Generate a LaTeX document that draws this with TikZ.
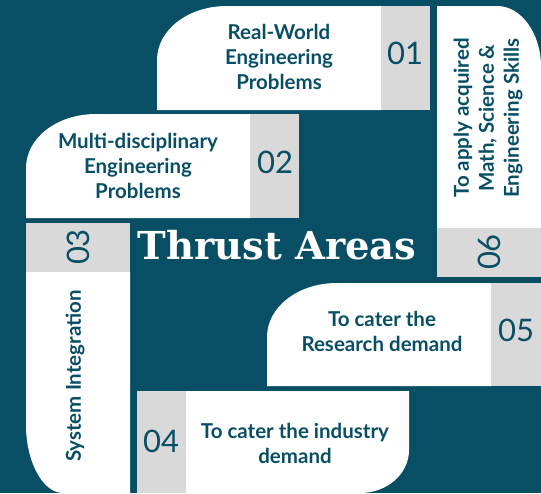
\documentclass[tikz,border=0pt]{standalone}
\usepackage{fontspec}
\setmainfont{Lato}
\newfontfamily\titlefont{DejaVu Serif}
\definecolor{deepteal}{RGB}{8,79,101}
\definecolor{tabgray}{RGB}{217,217,217}
\tikzset{
  card/.style={fill=white},
  tab/.style={fill=tabgray},
  cardtext/.style={text=deepteal, font=\fontsize{20.5}{25}\selectfont\bfseries, align=center},
  tabnum/.style={text=deepteal, font=\fontsize{31}{31}\selectfont}
}
\begin{document}
\begin{tikzpicture}[x=1pt, y=-1pt]
    % Background
    \fill[deepteal] (0,0) rectangle (541,493);
    \useasboundingbox (0,0) rectangle (541,493);

    % Cards (white)
    \fill[card] (381,6) -- (227,6) .. controls (188,6) and (157,30) .. (157,60) -- (157,110) -- (381,110) -- cycle;
    \fill[card] (250,114) -- (96,114) .. controls (57,114) and (26,138) .. (26,168) -- (26,218) -- (250,218) -- cycle;
    \fill[card] (491,283) -- (337,283) .. controls (298,283) and (267,307) .. (267,337) -- (267,386) -- (491,386) -- cycle;
    \fill[card] (437,228) -- (437,6) -- (497,6) .. controls (521,6) and (541,33) .. (541,67) -- (541,228) -- cycle;
    \fill[card] (26,272) -- (130,272) -- (130,493) -- (63,493) .. controls (43,493) and (26,462) .. (26,425) -- cycle;
    \fill[card] (186,391) -- (409,391) -- (409,450) .. controls (409,474) and (387,493) .. (360,493) -- (186,493) -- cycle;

    % Number tabs
    \fill[tab] (381,6) rectangle (430,110);
    \fill[tab] (250,114) rectangle (299,218);
    \fill[tab] (26,223) rectangle (130,272);
    \fill[tab] (137,391) rectangle (186,493);
    \fill[tab] (491,283) rectangle (541,386);
    \fill[tab] (437,228) rectangle (541,277);

    \node[tabnum] (n1) at (405,53) {01};
    \node[tabnum] (n2) at (275,162) {02};
    \node[tabnum, rotate=90] (n3) at (78,247) {03};
    \node[tabnum] (n4) at (161,441) {04};
    \node[tabnum] (n5) at (516,330) {05};
    \node[tabnum, rotate=90] (n6) at (489,252) {06};

    % Labels
    \node[cardtext] (t1) at (279,57) {Real-World\\Engineering\\Problems};
    \node[cardtext] (t2) at (138,166) {Multi-disciplinary\\Engineering\\Problems};
    \node[cardtext, rotate=90] (t3) at (75,376) {System Integration};
    \node[cardtext] (t4) at (295,443) {To cater the industry\\demand};
    \node[cardtext] (t5) at (382,331) {To cater the\\Research demand};
    \node[cardtext, rotate=90] (t6) at (488,118) {To apply acquired\\Math, Science \&\\Engineering Skills};

    % Title
    \node[text=white, font=\fontsize{38.5}{38.5}\selectfont\titlefont\bfseries] (title) at (277,245) {Thrust Areas};
\end{tikzpicture}
\end{document}
